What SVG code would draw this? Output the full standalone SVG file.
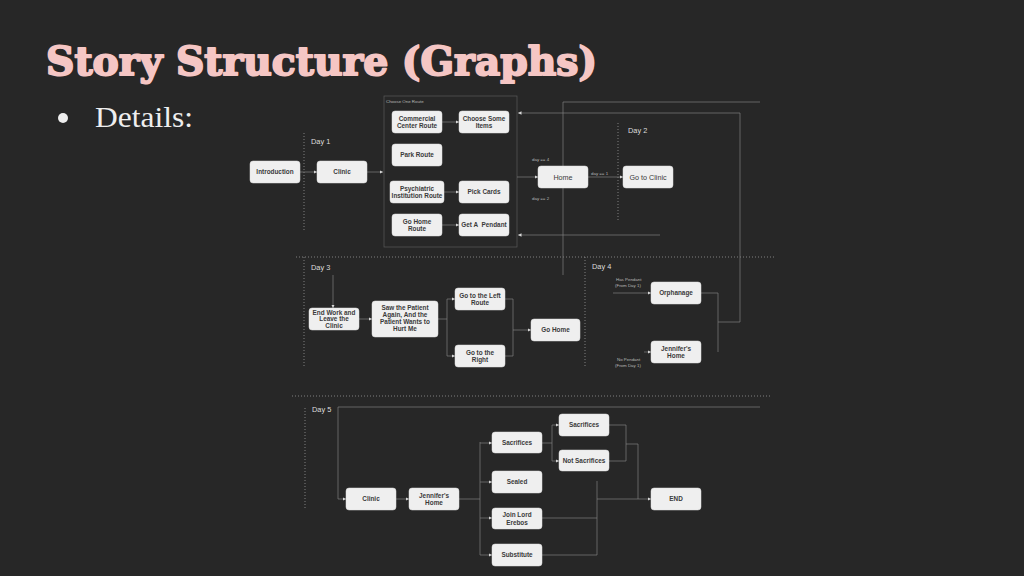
<svg xmlns="http://www.w3.org/2000/svg" width="1024" height="576" viewBox="0 0 1024 576">
<defs>
<marker id="ah" viewBox="0 0 6 6" refX="6" refY="3" markerWidth="3.5" markerHeight="3.5" orient="auto" markerUnits="userSpaceOnUse">
<path d="M0,0 L6,3 L0,6 z" fill="#d8d8d8"/>
</marker>
<style>
.bg{fill:#272727}
.title{font-family:"DejaVu Serif",serif;font-weight:900;font-size:40px;fill:#f5c6c4;stroke:#f5c6c4;stroke-width:2;stroke-linejoin:round}
.details{font-family:"Liberation Serif",serif;font-size:30px;fill:#eeeeee}
.nd rect{fill:#efefef;stroke:#dcdcdc;stroke-width:0.5}
.nd text{font-family:"Liberation Sans",Arial,sans-serif;font-weight:bold;font-size:6.4px;fill:#3a3a3a;text-anchor:middle}
.nd text.reg{font-weight:normal;font-size:7.2px}
.cn path{fill:none;stroke:#7e7e7e;stroke-width:0.7}
.cn path.ar{marker-end:url(#ah)}
.dot{fill:none;stroke:#8a8a8a;stroke-width:0.9;stroke-dasharray:1 2}
.frame{fill:none;stroke:#5a5a5a;stroke-width:0.7}
.day{font-family:"Liberation Sans",Arial,sans-serif;font-size:7.4px;fill:#dddddd}
.sm{font-family:"Liberation Sans",Arial,sans-serif;font-size:4.4px;fill:#b8b8b8}
</style>
</defs>
<rect class="bg" x="0" y="0" width="1024" height="576"/>
<text class="title" x="46" y="75" textLength="551" lengthAdjust="spacingAndGlyphs">Story Structure (Graphs)</text>
<circle cx="63" cy="118" r="5" fill="#eeeeee"/>
<text class="details" x="95" y="127" textLength="98" lengthAdjust="spacingAndGlyphs">Details:</text>

<g id="guides">
<path class="dot" d="M304,133 V232"/>
<path class="dot" d="M618,123 V222"/>
<path class="dot" d="M296,257 H775"/>
<path class="dot" d="M304,257 V367"/>
<path class="dot" d="M585,257 V367"/>
<path class="dot" d="M292,396 H770"/>
<path class="dot" d="M305,408 V510"/>
<rect class="frame" x="384" y="96" width="133" height="151"/>
<text class="sm" x="386" y="103">Choose One Route</text>
<text class="day" x="311" y="144">Day 1</text>
<text class="day" x="628" y="133">Day 2</text>
<text class="day" x="311" y="270">Day 3</text>
<text class="day" x="592" y="269">Day 4</text>
<text class="day" x="312" y="412">Day 5</text>
<text class="sm" x="532" y="161">day == 4</text>
<text class="sm" x="591" y="175">day == 1</text>
<text class="sm" x="532" y="200">day == 2</text>
<text class="sm" x="616" y="281">Has Pendant</text>
<text class="sm" x="615" y="287">(From Day 1)</text>
<text class="sm" x="617" y="361">No Pendant</text>
<text class="sm" x="615" y="367">(From Day 1)</text>
</g>

<g id="connectors" class="cn">
<path class="ar" d="M300,172 H317"/>
<path class="ar" d="M367,172 H383"/>
<path class="ar" d="M442,122 H459"/>
<path class="ar" d="M444,192 H459"/>
<path class="ar" d="M442,225 H459"/>
<path class="ar" d="M517,177 H538"/>
<path class="ar" d="M588,177 H623"/>
<path class="ar" d="M718,322 H740 V113 H518"/>
<path d="M701,293 H718 V352"/>
<path class="ar" d="M660,235 H518"/>
<path d="M760,102 H563 V275"/>
<path class="ar" d="M333,275 V308"/>
<path class="ar" d="M359,319 H372"/>
<path d="M438,319 H447"/>
<path d="M447,299 V356"/>
<path class="ar" d="M447,299 H455"/>
<path class="ar" d="M447,356 H455"/>
<path d="M505,299 H513 V356 H505"/>
<path class="ar" d="M513,330 H531"/>
<path class="ar" d="M613,293 H651"/>
<path class="ar" d="M644,352 H651"/>
<path class="ar" d="M760,407 H338 V499 H346"/>
<path class="ar" d="M396,499 H409"/>
<path d="M459,499 H480"/>
<path d="M480,442 V555"/>
<path class="ar" d="M480,443 H492"/>
<path class="ar" d="M480,482 H492"/>
<path class="ar" d="M480,518 H492"/>
<path class="ar" d="M480,555 H492"/>
<path d="M542,443 H552"/>
<path d="M552,425 V461"/>
<path class="ar" d="M552,425 H559"/>
<path class="ar" d="M552,461 H559"/>
<path d="M609,425 H626 V461 H609"/>
<path class="ar" d="M626,444 H638 V499 H651"/>
<path d="M542,518 H597"/>
<path d="M542,555 H597 V481"/>
<path d="M597,499 H638"/>
</g>

<g id="n_intro" class="nd"><rect x="250" y="161" width="50" height="22" rx="3"/><text x="275" y="174.3">Introduction</text></g>
<g id="n_clinic1" class="nd"><rect x="317" y="161" width="50" height="22" rx="3"/><text x="342" y="174.3">Clinic</text></g>
<g id="n_commercial" class="nd"><rect x="392" y="111" width="50" height="22" rx="3"/><text x="417" y="120.5">Commercial</text><text x="417" y="128">Center Route</text></g>
<g id="n_choose" class="nd"><rect x="459" y="111" width="50" height="22" rx="3"/><text x="484" y="120.5">Choose Some</text><text x="484" y="128">Items</text></g>
<g id="n_park" class="nd"><rect x="392" y="144" width="50" height="22" rx="3"/><text x="417" y="157.3">Park Route</text></g>
<g id="n_psych" class="nd"><rect x="390" y="181" width="54" height="22" rx="3"/><text x="417" y="190.5">Psychiatric</text><text x="417" y="198">Institution Route</text></g>
<g id="n_pick" class="nd"><rect x="459" y="181" width="50" height="22" rx="3"/><text x="484" y="194.3">Pick Cards</text></g>
<g id="n_gohomeroute" class="nd"><rect x="392" y="214" width="50" height="22" rx="3"/><text x="417" y="223.5">Go Home</text><text x="417" y="231">Route</text></g>
<g id="n_pendant" class="nd"><rect x="459" y="214" width="50" height="22" rx="3"/><text x="484" y="227.3" xml:space="preserve">Get A  Pendant</text></g>
<g id="n_home" class="nd"><rect x="538" y="166" width="50" height="22" rx="3"/><text class="reg" x="563" y="179.5">Home</text></g>
<g id="n_goclinic" class="nd"><rect x="623" y="166" width="50" height="22" rx="3"/><text class="reg" x="648" y="179.5">Go to Clinic</text></g>
<g id="n_endwork" class="nd"><rect x="309" y="308" width="50" height="22" rx="3"/><text x="334" y="314.5">End Work and</text><text x="334" y="321">Leave the</text><text x="334" y="327.5">Clinic</text></g>
<g id="n_saw" class="nd"><rect x="372" y="301" width="66" height="36" rx="3"/><text x="405" y="309.5">Saw the Patient</text><text x="405" y="316.5">Again, And the</text><text x="405" y="323.5">Patient Wants to</text><text x="405" y="330.5">Hurt Me</text></g>
<g id="n_left" class="nd"><rect x="455" y="288" width="50" height="22" rx="3"/><text x="480" y="297.5">Go to the Left</text><text x="480" y="305">Route</text></g>
<g id="n_right" class="nd"><rect x="455" y="345" width="50" height="22" rx="3"/><text x="480" y="354.5">Go to the</text><text x="480" y="362">Right</text></g>
<g id="n_gohome3" class="nd"><rect x="531" y="319" width="49" height="22" rx="3"/><text x="555.5" y="332.3">Go Home</text></g>
<g id="n_orphanage" class="nd"><rect x="651" y="282" width="50" height="22" rx="3"/><text x="676" y="295.3">Orphanage</text></g>
<g id="n_jhome4" class="nd"><rect x="651" y="341" width="50" height="22" rx="3"/><text x="676" y="350.5">Jennifer's</text><text x="676" y="358">Home</text></g>
<g id="n_clinic5" class="nd"><rect x="346" y="488" width="50" height="22" rx="3"/><text x="371" y="501.3">Clinic</text></g>
<g id="n_jhome5" class="nd"><rect x="409" y="488" width="50" height="22" rx="3"/><text x="434" y="497.5">Jennifer's</text><text x="434" y="505">Home</text></g>
<g id="n_sac1" class="nd"><rect x="492" y="432" width="50" height="21" rx="3"/><text x="517" y="445">Sacrifices</text></g>
<g id="n_sealed" class="nd"><rect x="492" y="471" width="50" height="22" rx="3"/><text x="517" y="484.3">Sealed</text></g>
<g id="n_join" class="nd"><rect x="492" y="508" width="50" height="21" rx="3"/><text x="517" y="517">Join Lord</text><text x="517" y="524.5">Erebos</text></g>
<g id="n_subst" class="nd"><rect x="492" y="544" width="50" height="22" rx="3"/><text x="517" y="557.3">Substitute</text></g>
<g id="n_sac2" class="nd"><rect x="559" y="414" width="50" height="22" rx="3"/><text x="584" y="427.3">Sacrifices</text></g>
<g id="n_notsac" class="nd"><rect x="559" y="450" width="50" height="21" rx="3"/><text x="584" y="463">Not Sacrifices</text></g>
<g id="n_end" class="nd"><rect x="651" y="488" width="50" height="22" rx="3"/><text x="676" y="501.3">END</text></g>
</svg>
